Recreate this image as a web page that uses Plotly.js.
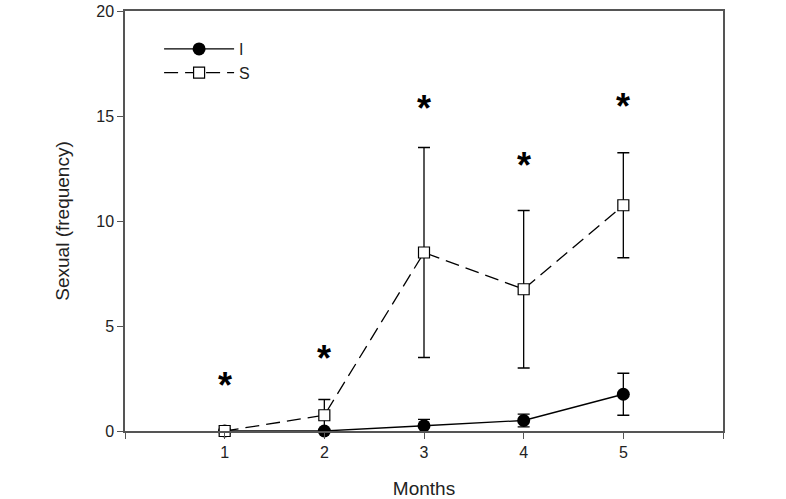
<!DOCTYPE html>
<html>
<head>
<meta charset="utf-8">
<script src="https://cdn.plot.ly/plotly-3.0.1.min.js"></script>
<style>
  body { margin: 0; background: #fff; }
  #chart { width: 786px; height: 499px; }
</style>
</head>
<body>
<div id="chart"></div>
<script>
// months on the x axis
var months = [1, 2, 3, 4, 5];

// group I (filled circles, solid line)
var iMean = [0, 0, 0.25, 0.5, 1.75];
var iErr = [0, 0, 0.3, 0.3, 1.0];

// group S (open squares, dashed line)
var sMean = [0, 0.75, 8.5, 6.75, 10.75];
var sErr = [0, 0.75, 5.0, 3.75, 2.5];

// significance stars
var starY = [2.3, 3.6, 15.5, 12.8, 15.6];

var xTickVals = [0, 1, 2, 3, 4, 5, 6];
var xTickText = ['', '1', '2', '3', '4', '5', ''];

var traceI = {
    x: months,
    y: iMean,
    name: 'I',
    type: 'scatter',
    mode: 'lines+markers',
    cliponaxis: false,
    line: {color: '#000', width: 1.3},
    marker: {symbol: 'circle', size: 13, color: '#000'},
    error_y: {type: 'data', array: iErr, visible: true, color: '#000', thickness: 1.3, width: 6}
};

var traceS = {
    x: months,
    y: sMean,
    name: 'S',
    type: 'scatter',
    mode: 'lines+markers',
    cliponaxis: false,
    line: {color: '#000', width: 1.3, dash: '14px,7px'},
    marker: {symbol: 'square', size: 11, color: '#fff', line: {color: '#000', width: 1.2}},
    error_y: {type: 'data', array: sErr, visible: true, color: '#000', thickness: 1.3, width: 6}
};

var stars = [];
for (var i = 0; i < months.length; i++) {
    stars.push({
        x: months[i], y: starY[i], xref: 'x', yref: 'y',
        text: '<b>*</b>', showarrow: false, yshift: -3,
        font: {family: 'Liberation Sans, Arial, sans-serif', size: 36, color: '#000'}
    });
}

var layout = {
    width: 786,
    height: 499,
    margin: {l: 125, r: 63, t: 11, b: 68},
    paper_bgcolor: '#fff',
    plot_bgcolor: '#fff',
    font: {family: 'Liberation Sans, Arial, sans-serif', size: 16, color: '#222'},
    showlegend: true,
    legend: {
        x: 0.057, y: 0.95, xanchor: 'left', yanchor: 'top',
        bgcolor: 'rgba(0,0,0,0)', font: {size: 16, color: '#222'}, itemwidth: 70,
        tracegroupgap: 0
    },
    xaxis: {
        range: [0, 6],
        tickvals: xTickVals,
        ticktext: xTickText,
        ticks: 'outside', ticklen: 6, tickcolor: '#555',
        tickfont: {size: 16},
        showgrid: false, zeroline: false,
        showline: true, mirror: true, linecolor: '#555', linewidth: 1.5,
        title: {text: 'Months', font: {size: 19}, standoff: 24}
    },
    yaxis: {
        range: [0, 20],
        tickvals: [0, 5, 10, 15, 20],
        ticks: 'outside', ticklen: 6, tickcolor: '#555',
        tickfont: {size: 16},
        showgrid: false, zeroline: false,
        showline: true, mirror: true, linecolor: '#555', linewidth: 1.5,
        title: {text: 'Sexual (frequency)', font: {size: 19}, standoff: 22}
    },
    annotations: stars
};

Plotly.newPlot('chart', [traceI, traceS], layout, {displayModeBar: false});
</script>
</body>
</html>
